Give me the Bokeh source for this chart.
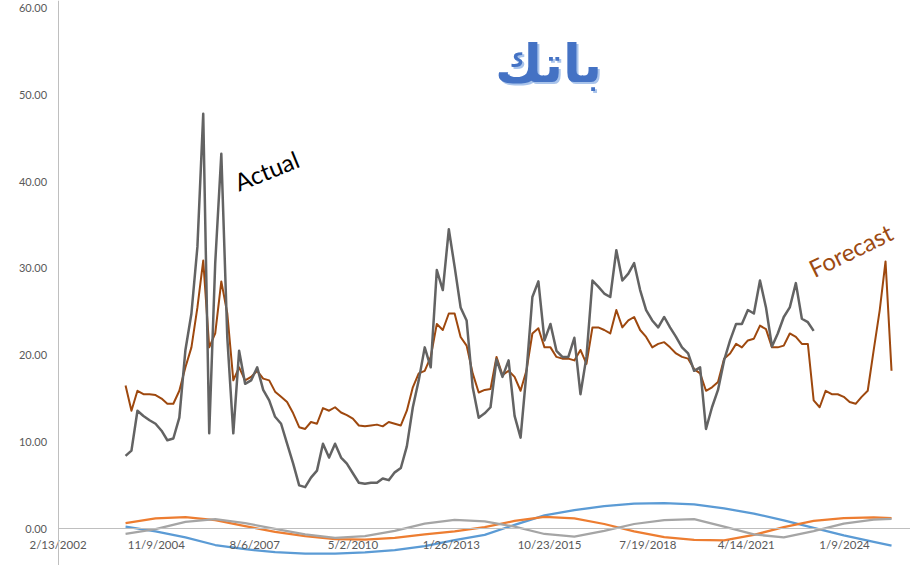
import pandas as pd
from bokeh.plotting import figure
from bokeh.models import Label, FixedTicker, NumeralTickFormatter, Range1d, ColumnDataSource
from bokeh.embed import file_html
from bokeh.resources import INLINE

# ---------------- data ----------------
actual_start = "2004-01-01"
actual_values = [
    8.4, 9.0, 13.6, 13.0, 12.5, 12.1, 11.3, 10.2, 10.4, 12.8,
    20.6, 24.8, 32.5, 47.8, 11.0, 30.6, 43.2, 22.0, 11.0, 20.5,
    16.7, 17.1, 18.6, 16.0, 14.8, 12.9, 12.1, 9.8, 7.5, 5.0,
    4.8, 5.9, 6.7, 9.8, 8.2, 9.8, 8.2, 7.5, 6.4, 5.3,
    5.2, 5.3, 5.3, 5.8, 5.6, 6.5, 7.0, 9.5, 14.0, 17.1,
    20.9, 18.6, 29.8, 27.5, 34.5, 30.2, 25.5, 24.0, 16.3, 12.8,
    13.3, 14.0, 19.5, 17.5, 19.4, 13.0, 10.5, 17.9, 26.7, 28.5,
    21.7, 23.6, 20.5, 19.8, 19.8, 22.0, 15.5, 19.8, 28.6, 27.9,
    27.1, 26.7, 32.1, 28.6, 29.4, 30.6, 27.5, 25.2, 24.0, 23.2,
    24.4, 23.2, 22.1, 20.9, 20.2, 18.2, 18.6, 11.5, 14.0, 16.0,
    19.4, 21.7, 23.6, 23.6, 25.2, 24.8, 28.6, 25.5, 21.0, 22.5,
    24.4, 25.5, 28.3, 24.2, 23.8, 22.8,
]
forecast_values = [
    16.5, 13.6, 15.9, 15.5, 15.5, 15.4, 15.0, 14.4, 14.4, 15.9,
    18.6, 20.9, 25.5, 30.9, 20.9, 22.5, 28.5, 24.8, 17.1, 18.6,
    17.1, 17.5, 18.2, 17.3, 17.1, 15.8, 15.2, 14.6, 13.3, 11.7,
    11.5, 12.3, 12.1, 13.9, 13.6, 14.0, 13.4, 13.1, 12.7, 11.9,
    11.8, 11.9, 12.0, 11.8, 12.3, 12.1, 11.9, 13.6, 16.3, 17.9,
    18.2, 19.8, 23.6, 22.9, 24.8, 24.8, 22.1, 21.1, 17.9, 15.7,
    16.0, 16.1, 19.8, 17.7, 18.2, 17.5, 15.9, 18.2, 22.5, 23.1,
    20.9, 20.9, 19.8, 19.6, 19.6, 19.4, 20.6, 19.0, 23.2, 23.2,
    22.9, 22.5, 25.2, 23.2, 24.0, 24.4, 22.9, 22.1, 20.9, 21.3,
    21.5, 20.9, 20.2, 19.8, 19.6, 18.4, 17.9, 15.9, 16.3, 16.9,
    19.6, 20.2, 21.3, 20.9, 21.7, 21.9, 23.4, 23.0, 20.9, 20.9,
    21.1, 22.5, 22.1, 21.3, 21.3, 14.8, 14.0, 15.9, 15.5, 15.5,
    15.2, 14.6, 14.4, 15.2, 15.9, 20.6, 25.2, 30.8, 18.2,
]
season_dates = [
    "2004-01-01", "2004-11-01", "2005-09-01", "2006-07-01", "2007-05-01",
    "2008-03-01", "2009-01-01", "2009-11-01", "2010-09-01", "2011-07-01",
    "2012-05-01", "2013-03-01", "2014-01-01", "2014-11-01", "2015-09-01",
    "2016-07-01", "2017-05-01", "2018-03-01", "2019-01-01", "2019-11-01",
    "2020-09-01", "2021-07-01", "2022-05-01", "2023-03-01", "2024-01-01",
    "2024-11-01", "2025-05-01",
]
season_blue = [
    0.26, -0.3, -1.0, -1.87, -2.35, -2.7, -2.85, -2.86, -2.72, -2.45,
    -2.0, -1.3, -0.7, 0.45, 1.55, 2.15, 2.6, 2.9, 2.95, 2.8,
    2.35, 1.75, 0.97, 0.1, -0.75, -1.5, -1.95,
]
season_orange = [
    0.65, 1.2, 1.34, 1.0, 0.3, -0.35, -0.85, -1.2, -1.25, -1.05,
    -0.65, -0.3, 0.2, 0.9, 1.38, 1.2, 0.55, -0.3, -0.95, -1.28,
    -1.33, -0.7, 0.2, 0.9, 1.22, 1.3, 1.22,
]
season_gray = [
    -0.58, -0.05, 0.8, 1.12, 0.65, 0.0, -0.65, -1.05, -0.85, -0.25,
    0.6, 1.03, 0.85, 0.25, -0.6, -0.9, -0.25, 0.55, 1.0, 1.12,
    0.25, -0.65, -1.0, -0.28, 0.6, 1.05, 1.15,
]
tick_dates = ["2002-02-13", "2004-11-09", "2007-08-06", "2010-05-02", "2013-01-26",
              "2015-10-23", "2018-07-19", "2021-04-14", "2024-01-09"]
tick_labels = ["2/13/2002", "11/9/2004", "8/6/2007", "5/2/2010", "1/26/2013",
               "10/23/2015", "7/19/2018", "4/14/2021", "1/9/2024"]
y_ticks = [0, 10, 20, 30, 40, 50, 60]
title_text = "باتك"

# ---------------- build ----------------
def ms(d):
    return pd.Timestamp(d).value / 1e6


act_src = ColumnDataSource(dict(
    x=pd.date_range(actual_start, periods=len(actual_values), freq="2MS"), y=actual_values))
fc_src = ColumnDataSource(dict(
    x=pd.date_range(actual_start, periods=len(forecast_values), freq="2MS"), y=forecast_values))
sd = pd.to_datetime(season_dates)

# frame covers the whole canvas; both axes are placed at fixed data locations
x_start = pd.Timestamp("2000-07-08")
x_end = x_start + pd.Timedelta(days=9256)

p = figure(width=910, height=565, x_axis_type="datetime",
           x_range=Range1d(x_start, x_end), y_range=Range1d(-4.23, 60.86),
           output_backend="svg", toolbar_location=None,
           min_border_left=0, min_border_right=0, min_border_top=0, min_border_bottom=0)
p.title.visible = False
p.outline_line_color = None
p.xgrid.visible = False
p.ygrid.visible = False
p.background_fill_color = "white"
p.border_fill_color = "white"

axis_color = "#BFBFBF"
label_color = "#595959"

# y axis at the first date
p.yaxis.fixed_location = ms(tick_dates[0])
p.yaxis.ticker = FixedTicker(ticks=y_ticks)
p.yaxis.formatter = NumeralTickFormatter(format="0.00")
p.yaxis.axis_line_color = axis_color
p.yaxis.major_tick_line_color = None
p.yaxis.minor_tick_line_color = None
p.yaxis.major_tick_out = 0
p.yaxis.major_tick_in = 0
p.yaxis.major_label_standoff = 11
p.yaxis.major_label_text_font = "Lato"
p.yaxis.major_label_text_font_size = "11px"
p.yaxis.major_label_text_color = label_color

# x axis at value 0, starting at the y axis
p.xaxis.fixed_location = 0
p.xaxis.bounds = (ms(tick_dates[0]), ms(x_end))
p.xaxis.ticker = FixedTicker(ticks=[ms(d) for d in tick_dates])
p.xaxis.major_label_overrides = {ms(d): lab for d, lab in zip(tick_dates, tick_labels)}
p.xaxis.axis_line_color = axis_color
p.xaxis.major_tick_line_color = None
p.xaxis.minor_tick_line_color = None
p.xaxis.major_tick_out = 0
p.xaxis.major_tick_in = 0
p.xaxis.major_label_standoff = 9
p.xaxis.major_label_text_font = "Lato"
p.xaxis.major_label_text_font_size = "11.5px"
p.xaxis.major_label_text_color = label_color

# seasonal lines
p.line(sd, season_blue, line_color="#5B9BD5", line_width=2.25, line_join="round")
p.line(sd, season_orange, line_color="#ED7D31", line_width=2.25, line_join="round")
p.line(sd, season_gray, line_color="#A5A5A5", line_width=2.25, line_join="round")

# main series
p.line("x", "y", source=fc_src, line_color="#9E480E", line_width=2, line_join="round")
p.line("x", "y", source=act_src, line_color="#636363", line_width=2.5, line_join="round")

# annotations
p.add_layout(Label(x=ms("2015-10-12"), y=53.5, text=title_text, text_font="DejaVu Sans",
                   text_font_style="bold", text_font_size="52px", text_color="#A9C4EB",
                   text_align="center", text_baseline="alphabetic", x_offset=2, y_offset=-2))
p.add_layout(Label(x=ms("2015-10-12"), y=53.5, text=title_text, text_font="DejaVu Sans",
                   text_font_style="bold", text_font_size="52px", text_color="#4472C4",
                   text_align="center", text_baseline="alphabetic"))
p.add_layout(Label(x=ms("2007-12-05"), y=41.3, text="Actual", text_font="Lato",
                   text_font_size="24px", text_color="#000000", angle=0.384,
                   text_align="center", text_baseline="middle"))
p.add_layout(Label(x=ms("2024-03-10"), y=32.1, text="Forecast", text_font="Lato",
                   text_font_size="24px", text_color="#9C4A12", angle=0.454,
                   text_align="center", text_baseline="middle"))

open("out.html", "w").write(file_html(p, INLINE))
